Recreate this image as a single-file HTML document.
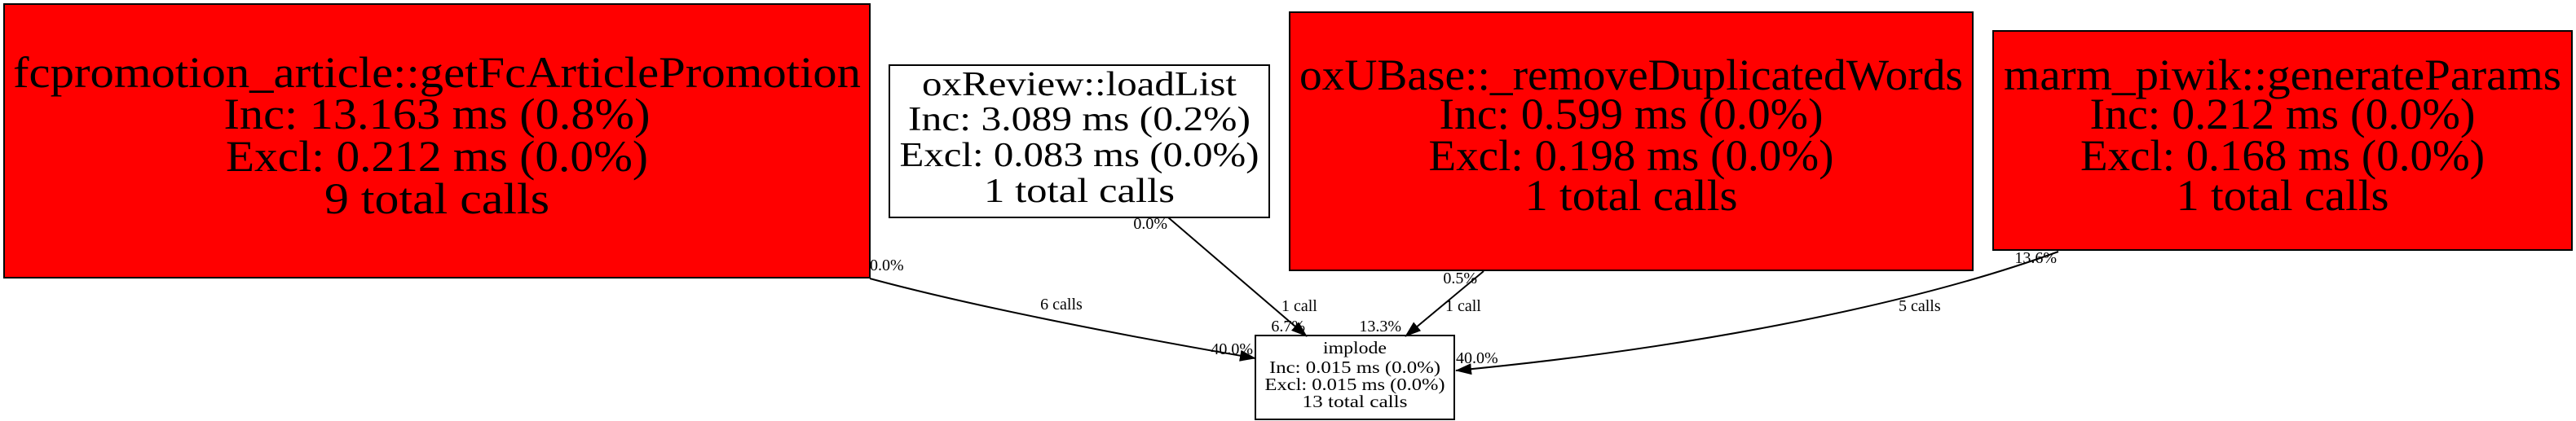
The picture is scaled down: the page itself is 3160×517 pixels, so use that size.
<!DOCTYPE html>
<html><head><meta charset="utf-8"><style>
html,body{margin:0;padding:0;background:#fff;}
svg{display:block;}
text{font-family:"Liberation Serif",serif;fill:#000;}
</style></head><body>
<svg width="3160" height="517" viewBox="0 0 3160 517" xmlns="http://www.w3.org/2000/svg">
<defs>
<marker id="ah" markerWidth="20" markerHeight="14" refX="19" refY="7" orient="auto" markerUnits="userSpaceOnUse" viewBox="0 0 20 14">
<path d="M0,0 L20,7 L0,14 z" fill="#000"/>
</marker>
</defs>
<g stroke="#000" stroke-width="2">
<rect x="5" y="5" width="1062" height="336" fill="#ff0000"/>
<rect x="1091" y="80" width="466" height="187" fill="#fff"/>
<rect x="1582" y="15" width="838" height="317" fill="#ff0000"/>
<rect x="2445" y="38" width="710" height="269" fill="#ff0000"/>
<rect x="1540" y="412" width="244" height="103" fill="#fff"/>
</g>
<g fill="none" stroke="#000" stroke-width="2">
<path d="M1067,342 C1200,378 1400,416 1540,440" marker-end="url(#ah)"/>
<path d="M1433,267 L1603,413" marker-end="url(#ah)"/>
<path d="M1820,333 L1724,413" marker-end="url(#ah)"/>
<path d="M2525,309 C2330,380 2050,430 1786,455" marker-end="url(#ah)"/>
</g>
<g text-anchor="middle" font-size="54">
<text x="536" y="107" textLength="1040" lengthAdjust="spacingAndGlyphs">fcpromotion_article::getFcArticlePromotion</text>
<text x="536" y="158" textLength="523" lengthAdjust="spacingAndGlyphs">Inc: 13.163 ms (0.8%)</text>
<text x="536" y="210" textLength="518" lengthAdjust="spacingAndGlyphs">Excl: 0.212 ms (0.0%)</text>
<text x="536" y="262" textLength="276" lengthAdjust="spacingAndGlyphs">9 total calls</text>
<text x="2001" y="110" textLength="814" lengthAdjust="spacingAndGlyphs">oxUBase::_removeDuplicatedWords</text>
<text x="2001" y="158" textLength="471" lengthAdjust="spacingAndGlyphs">Inc: 0.599 ms (0.0%)</text>
<text x="2001" y="209" textLength="497" lengthAdjust="spacingAndGlyphs">Excl: 0.198 ms (0.0%)</text>
<text x="2001" y="258" textLength="261" lengthAdjust="spacingAndGlyphs">1 total calls</text>
<text x="2800" y="110" textLength="684" lengthAdjust="spacingAndGlyphs">marm_piwik::generateParams</text>
<text x="2800" y="158" textLength="473" lengthAdjust="spacingAndGlyphs">Inc: 0.212 ms (0.0%)</text>
<text x="2800" y="209" textLength="496" lengthAdjust="spacingAndGlyphs">Excl: 0.168 ms (0.0%)</text>
<text x="2800" y="258" textLength="261" lengthAdjust="spacingAndGlyphs">1 total calls</text>
</g>
<g text-anchor="middle" font-size="42">
<text x="1324" y="117" textLength="386" lengthAdjust="spacingAndGlyphs">oxReview::loadList</text>
<text x="1324" y="160" textLength="420" lengthAdjust="spacingAndGlyphs">Inc: 3.089 ms (0.2%)</text>
<text x="1324" y="204" textLength="441" lengthAdjust="spacingAndGlyphs">Excl: 0.083 ms (0.0%)</text>
<text x="1324" y="248" textLength="234" lengthAdjust="spacingAndGlyphs">1 total calls</text>
</g>
<g text-anchor="middle" font-size="21">
<text x="1662" y="434" textLength="78" lengthAdjust="spacingAndGlyphs">implode</text>
<text x="1662" y="458" textLength="210" lengthAdjust="spacingAndGlyphs">Inc: 0.015 ms (0.0%)</text>
<text x="1662" y="479" textLength="221" lengthAdjust="spacingAndGlyphs">Excl: 0.015 ms (0.0%)</text>
<text x="1662" y="500" textLength="129" lengthAdjust="spacingAndGlyphs">13 total calls</text>
</g>
<g font-size="20">
<text x="1067" y="332">0.0%</text>
<text x="1302" y="380" text-anchor="middle">6 calls</text>
<text x="1537" y="435" text-anchor="end">40.0%</text>
<text x="1432" y="281" text-anchor="end">0.0%</text>
<text x="1572" y="382">1 call</text>
<text x="1601" y="407" text-anchor="end">6.7%</text>
<text x="1812" y="348" text-anchor="end">0.5%</text>
<text x="1773" y="382">1 call</text>
<text x="1719" y="407" text-anchor="end">13.3%</text>
<text x="2523" y="323" text-anchor="end">13.6%</text>
<text x="2329" y="382">5 calls</text>
<text x="1786" y="446">40.0%</text>
</g>
</svg>
</body></html>
